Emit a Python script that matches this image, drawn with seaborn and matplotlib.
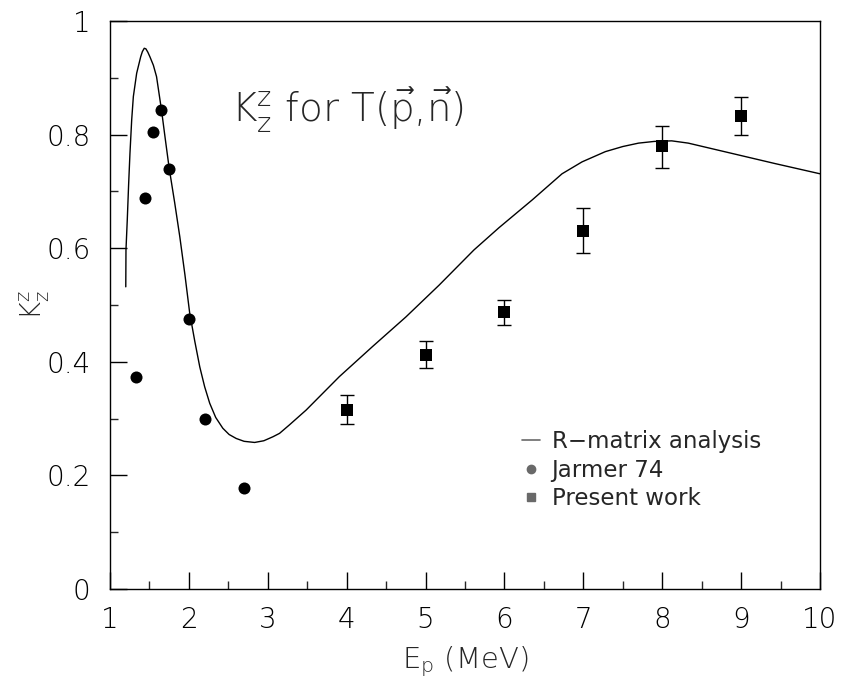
import numpy as np
import pandas as pd
import matplotlib
matplotlib.use("Agg")
import matplotlib.pyplot as plt
import seaborn as sns
from matplotlib.ticker import MultipleLocator
from matplotlib.lines import Line2D

# R-matrix analysis curve
curve_x = [1.200, 1.2025, 1.219, 1.236, 1.253, 1.275, 1.296, 1.338, 1.389, 1.410, 1.434,
           1.455, 1.480, 1.506, 1.550, 1.590, 1.653, 1.700, 1.750, 1.820, 1.885, 1.950,
           2.010, 2.075, 2.138, 2.200, 2.264, 2.340, 2.430, 2.510, 2.600, 2.700, 2.833,
           2.950, 3.065, 3.149, 3.275, 3.486, 3.908, 4.329, 4.751, 5.172, 5.614, 5.930,
           6.352, 6.730, 6.984, 7.279, 7.500, 7.700, 7.900, 8.120, 8.330, 8.880, 9.430,
           10.000]
curve_y = [0.532, 0.597, 0.650, 0.712, 0.767, 0.826, 0.867, 0.908, 0.937, 0.946, 0.952,
           0.951, 0.945, 0.937, 0.922, 0.902, 0.843, 0.793, 0.741, 0.680, 0.620, 0.553,
           0.486, 0.436, 0.391, 0.356, 0.327, 0.302, 0.283, 0.272, 0.265, 0.260, 0.258,
           0.261, 0.268, 0.274, 0.289, 0.315, 0.374, 0.427, 0.479, 0.535, 0.597, 0.636,
           0.685, 0.731, 0.752, 0.770, 0.779, 0.785, 0.788, 0.789, 0.785, 0.767, 0.749,
           0.731]

# Jarmer 74
jarmer_x = [1.325, 1.444, 1.549, 1.646, 1.748, 2.000, 2.200, 2.700]
jarmer_y = [0.374, 0.689, 0.805, 0.843, 0.739, 0.475, 0.299, 0.178]

# Present work
present_x = [4, 5, 6, 7, 8, 9]
present_y = [0.315, 0.412, 0.488, 0.631, 0.780, 0.833]
present_lo = [0.290, 0.389, 0.464, 0.592, 0.742, 0.800]
present_hi = [0.342, 0.437, 0.509, 0.670, 0.816, 0.866]

sns.set_style("ticks")
plt.rcParams['font.family'] = ['DejaVu Sans']
plt.rcParams['mathtext.fontset'] = 'dejavusans'

fig = plt.figure(figsize=(8.41, 6.88), dpi=100)
ax = fig.add_axes([110/841, 1-589/688, 710/841, 568/688])

curve_df = pd.DataFrame({"x": curve_x, "y": curve_y})
sns.lineplot(data=curve_df, x="x", y="y", sort=False, color="black", lw=1.0, ax=ax)

jdf = pd.DataFrame({"x": jarmer_x, "y": jarmer_y})
sns.scatterplot(data=jdf, x="x", y="y", marker="o", s=75, color="black",
                edgecolor="black", linewidth=0, ax=ax, zorder=3)

py = np.array(present_y)
yerr = [py - np.array(present_lo), np.array(present_hi) - py]
ax.errorbar(present_x, present_y, yerr=yerr, fmt="none", ecolor="black",
            elinewidth=1.0, capsize=5, capthick=1.0, zorder=2)
pdf = pd.DataFrame({"x": present_x, "y": present_y})
sns.scatterplot(data=pdf, x="x", y="y", marker="s", s=75, color="black",
                edgecolor="black", linewidth=0, ax=ax, zorder=3)

ax.set_xlim(1, 10)
ax.set_ylim(0, 1)
ax.set_xticks(range(1, 11))
ax.set_xticklabels([str(i) for i in range(1, 11)])
ax.set_yticks([0, 0.2, 0.4, 0.6, 0.8, 1.0])
ax.set_yticklabels(["0", "0.2", "0.4", "0.6", "0.8", "1"])
ax.xaxis.set_minor_locator(MultipleLocator(0.5))
ax.yaxis.set_minor_locator(MultipleLocator(0.1))
ax.tick_params(axis="both", which="major", direction="in", length=12, width=1,
               labelsize=20, colors="black")
ax.tick_params(axis="y", which="major", pad=14)
ax.tick_params(axis="x", which="major", pad=12)
ax.tick_params(axis="both", which="minor", direction="in", length=6, width=1)
for lab in ax.get_xticklabels() + ax.get_yticklabels():
    lab.set_fontweight("light")
for s in ax.spines.values():
    s.set_visible(True)
    s.set_linewidth(1.0)
    s.set_color("black")

ax.set_xlabel(r"E$_\mathregular{p}$ (MeV)", fontsize=21, fontweight="light", labelpad=8)
ax.set_ylabel(r"K$_\mathregular{z}^\mathregular{z}$", fontsize=20, fontweight="light", labelpad=-4)

ax.text(0.170, 0.843,
        r"K$_\mathregular{z}^\mathregular{z}$ for T($\vec{\mathregular{p}}$,$\vec{\mathregular{n}}$)",
        transform=ax.transAxes, fontsize=28, fontweight="light", ha="left", va="center")

handles = [
    Line2D([], [], color="dimgray", lw=1.2),
    Line2D([], [], color="dimgray", marker="o", ls="none", markersize=6),
    Line2D([], [], color="dimgray", marker="s", ls="none", markersize=6),
]
ax.legend(handles, ["R\u2212matrix analysis", "Jarmer 74", "Present work"],
          loc="upper left", bbox_to_anchor=(0.580, 0.280), frameon=False,
          fontsize=16.5, handlelength=0.8, handletextpad=0.5, labelspacing=0.25,
          borderaxespad=0, borderpad=0)

fig.savefig("out.png", dpi=100)
